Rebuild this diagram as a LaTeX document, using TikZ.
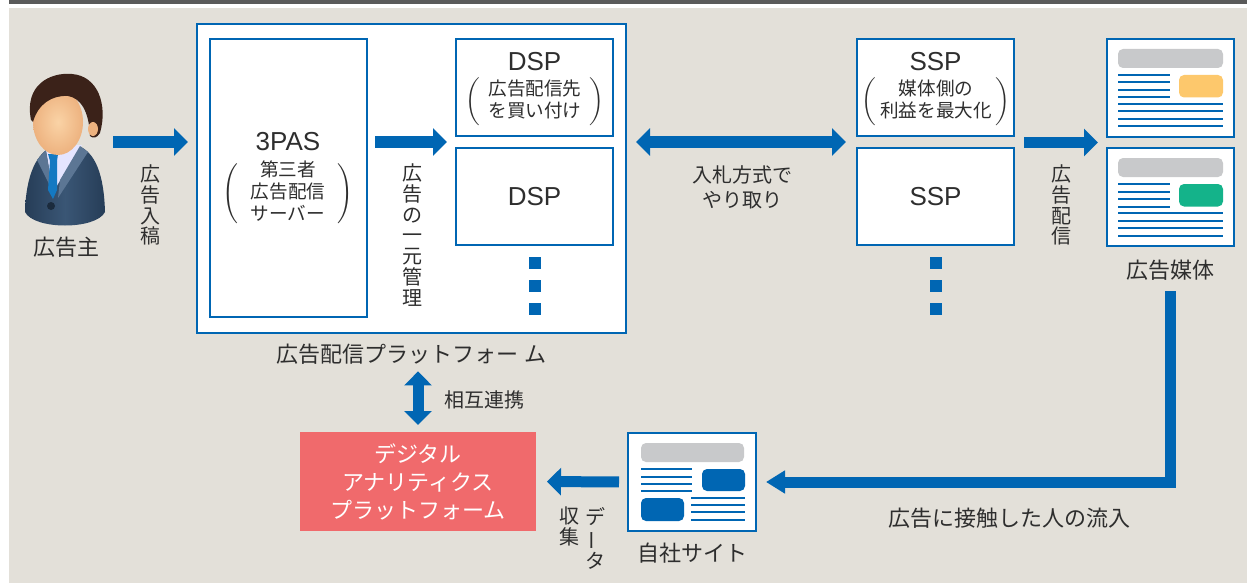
\documentclass[tikz,border=0pt]{standalone}
\usepackage{fontspec}
\setmainfont{Noto Sans CJK JP}
\newfontfamily\latinfont{Liberation Sans}
\usetikzlibrary{arrows.meta,positioning,calc}

\definecolor{adBlue}{HTML}{0066B3}
\definecolor{paper}{HTML}{E3E0D9}
\definecolor{band}{HTML}{5A5A5A}
\definecolor{barGray}{HTML}{C8C9CB}
\definecolor{adYellow}{HTML}{FDC86C}
\definecolor{adGreen}{HTML}{14B38A}
\definecolor{dapRed}{HTML}{F06A6C}
\definecolor{ink}{HTML}{2E2E2E}
\definecolor{suitDark}{HTML}{263D57}
\definecolor{suitLight}{HTML}{3A5675}
\definecolor{lapel}{HTML}{5C7694}
\definecolor{tieBlue}{HTML}{1479C2}
\definecolor{hair}{HTML}{3B2219}
\definecolor{skin}{HTML}{EDB27F}
\definecolor{skinLight}{HTML}{FAD3A6}

\begin{document}
\begin{tikzpicture}[
    x=0.5pt, y=-0.5pt,
    every node/.style={inner sep=0pt, outer sep=0pt, text=ink},
    box/.style={rectangle, draw=adBlue, line width=1.25pt, fill=white, anchor=north west, minimum width=78.5pt, minimum height=48.5pt},
    page/.style={box, minimum width=63.5pt, minimum height=49pt},
    boxtitle/.style={font=\latinfont\fontsize{13}{15}\selectfont},
    note/.style={font=\fontsize{9.3}{10.5}\selectfont},
    txt/.style={font=\fontsize{11}{13}\selectfont},
    smalltxt/.style={font=\fontsize{10}{12.5}\selectfont, align=center},
    vtxt/.style={align=center, font=\fontsize{10}{10.4}\selectfont},
    bigarrow/.style={adBlue, line width=5.5pt, -{Triangle[length=7pt, width=13.5pt]}},
    dualarrow/.style={bigarrow, {Triangle[length=7pt, width=13.5pt]}-{Triangle[length=7pt, width=13.5pt]}},
    morebox/.style={rectangle, fill=adBlue, minimum size=6pt}
]

% backdrop
\fill[white] (0,0) rectangle (1247,583);
\fill[band] (9,0) rectangle (1247,4);
\fill[paper] (9,8) rectangle (1247,583);
\useasboundingbox (0,0) rectangle (1247,583);

% advertiser
\shade[left color=suitDark, right color=suitDark, middle color=suitLight]
  (25,212) .. controls (26,176) and (36,151) .. (56,145) -- (76,145)
  .. controls (96,151) and (104,176) .. (105,212)
  .. controls (96,230) and (34,230) .. (25,212) -- cycle;
\fill[white!90!blue] (45,145) -- (82,145) -- (53,192) -- cycle;
\fill[lapel] (46,150) -- (53,192) -- (37,160) -- cycle;
\fill[lapel] (80,146) -- (88,152) -- (58,198) -- (60,180) -- cycle;
\fill[tieBlue] (48,154) -- (58,154) -- (57,161) -- (50,161) -- cycle;
\fill[tieBlue] (50,161) -- (57,161) -- (57,190) -- (53,199) -- (48,190) -- cycle;
\fill[suitDark!70!black] (51,206) circle [radius=2pt];
\shade[inner color=skinLight, outer color=skin] (58,122) ellipse [x radius=12.5pt, y radius=16.5pt];
\fill[hair] (31,120) .. controls (24,85) and (50,72) .. (72,74)
  .. controls (98,76) and (108,105) .. (100,133)
  .. controls (97,138) and (93,139) .. (90,136)
  .. controls (89,110) and (80,98) .. (68,96)
  .. controls (52,95) and (38,104) .. (33,122) -- cycle;
\fill[skin] (93,129) ellipse [x radius=2.5pt, y radius=3.5pt];
\coordinate (advertiser) at (105,150);
\node[txt] (advLabel) at (66,247) {広告主};

% delivery platform with 3PAS and DSPs
\node[box, minimum width=214.5pt, minimum height=154.5pt] (platform) at (197,24) {};
\node[box, minimum height=139pt] (pas) at (210,39) {};
\node[box] (dspA) at (456,39) {};
\node[box] (dspB) at (456,148) {};
\node[txt, below=5.5pt of platform] (platformLabel) {広告配信プラットフォー\hspace{0.3em}ム};

\node[boxtitle] (pasTitle) at (288,142) {3PAS};
\node[note] at (288,194) {$\left(\vcenter{\hbox{\begin{tabular}{@{\hspace{6pt}}c@{\hspace{6pt}}}第三者\\広告配信\\サーバー\end{tabular}}}\right)$};

\node[boxtitle] at ([yshift=-11.5pt]dspA.north) {DSP};
\node[note] at (535,102) {$\left(\vcenter{\hbox{\begin{tabular}{@{\hspace{4pt}}c@{\hspace{4pt}}}広告配信先\\を買い付け\end{tabular}}}\right)$};
\node[boxtitle] at (dspB.center) {DSP};
\foreach \k in {0,1,2}
  \node[morebox] at ([yshift=-9pt-11.5pt*\k]dspB.south) {};

% SSPs
\node[box] (sspA) at (857,39) {};
\node[box] (sspB) at (857,148) {};
\node[boxtitle] at ([yshift=-11.5pt]sspA.north) {SSP};
\node[note] at (936,102) {$\left(\vcenter{\hbox{\begin{tabular}{@{\hspace{2pt}}c@{\hspace{2pt}}}媒体側の\\利益を最大化\end{tabular}}}\right)$};
\node[boxtitle] at (sspB.center) {SSP};
\foreach \k in {0,1,2}
  \node[morebox] at ([yshift=-9pt-11.5pt*\k]sspB.south) {};

% ad media pages
\node[page] (mediaA) at (1107,39) {};
\node[page] (mediaB) at (1107,148) {};
\node[txt] (mediaLabel) at (1170,270) {広告媒体};
\foreach \m/\c in {mediaA/adYellow, mediaB/adGreen} {
  \fill[barGray, rounded corners=2.5pt] ([shift={(11,10)}]\m.north west) rectangle ([shift={(116,29)}]\m.north west);
  \fill[\c, rounded corners=2.5pt] ([shift={(72,36)}]\m.north west) rectangle ([shift={(116,58.5)}]\m.north west);
  \foreach \y in {36,43.5,51,58.5}
    \draw[adBlue, line width=1pt] ([shift={(11,\y)}]\m.north west) -- ([shift={(63,\y)}]\m.north west);
  \foreach \y in {65,72.5,80,87.5}
    \draw[adBlue, line width=1pt] ([shift={(11,\y)}]\m.north west) -- ([shift={(116,\y)}]\m.north west);
}

% own site and analytics
\node[page, minimum width=64pt] (site) at (628,433) {};
\node[txt] (siteLabel) at (692,553) {自社サイト};
\fill[barGray, rounded corners=2.5pt] ([shift={(13,10)}]site.north west) rectangle ([shift={(116,29)}]site.north west);
\fill[adBlue, rounded corners=2.5pt] ([shift={(74,36)}]site.north west) rectangle ([shift={(117,58)}]site.north west);
\fill[adBlue, rounded corners=2.5pt] ([shift={(13,65)}]site.north west) rectangle ([shift={(56,88)}]site.north west);
\foreach \y in {36,44,51,58}
  \draw[adBlue, line width=1pt] ([shift={(13,\y)}]site.north west) -- ([shift={(64,\y)}]site.north west);
\foreach \y in {65,72,79,87}
  \draw[adBlue, line width=1pt] ([shift={(63,\y)}]site.north west) -- ([shift={(117,\y)}]site.north west);

\node[rectangle, fill=dapRed, anchor=north west, minimum width=118pt, minimum height=49.5pt] (dap) at (300,432) {};
\node[align=center, text=white, font=\fontsize{11}{14}\selectfont] at (dap.center) {デジタル\\アナリティクス\\プラットフォーム};

% gaps between stacked boxes
\coordinate (dspGap) at ($(dspA.south)!0.5!(dspB.north)$);
\coordinate (sspGap) at ($(sspA.south)!0.5!(sspB.north)$);
\coordinate (mediaGap) at ($(mediaA.south)!0.5!(mediaB.north)$);

% arrows
\draw[bigarrow, shorten <=4pt, shorten >=4.5pt] (advertiser |- dspGap) -- (platform.west |- dspGap);
\draw[bigarrow, shorten <=4pt, shorten >=4.5pt] (pas.east |- dspGap) -- (dspA.west |- dspGap);
\draw[dualarrow, shorten <=5pt, shorten >=5.5pt] (platform.east |- sspGap) -- (sspA.west |- sspGap);
\draw[bigarrow, shorten <=5pt, shorten >=4.5pt] (sspA.east |- mediaGap) -- (mediaA.west |- mediaGap);
\draw[bigarrow, -{Triangle[length=9.5pt, width=11pt]}, shorten <=5.5pt, shorten >=5pt] (mediaLabel.south) |- (site.east);
\draw[bigarrow, shorten <=4.5pt, shorten >=5.5pt] (site.west) -- (dap.east);
\draw[dualarrow, shorten <=3.5pt, shorten >=3.5pt] (dap.north) -- (dap.north |- platformLabel.south);

% arrow labels
\node[vtxt] at (150,205) {広\\告\\入\\稿};
\node[vtxt] at (412,235) {広\\告\\の\\一\\元\\管\\理};
\node[smalltxt] at (742,187) {入札方式で\\やり取り};
\node[vtxt] at (1061,205) {広\\告\\配\\信};
\node[txt] at (1009,518) {広告に接触した人の流入};
\node[vtxt, anchor=north] at (595,507) {デ\\\rotatebox[origin=c]{90}{ー}\\タ};
\node[vtxt, anchor=north] at (569,507) {収\\集};
\node[smalltxt] at (484,400) {相互連携};

\end{tikzpicture}
\end{document}
